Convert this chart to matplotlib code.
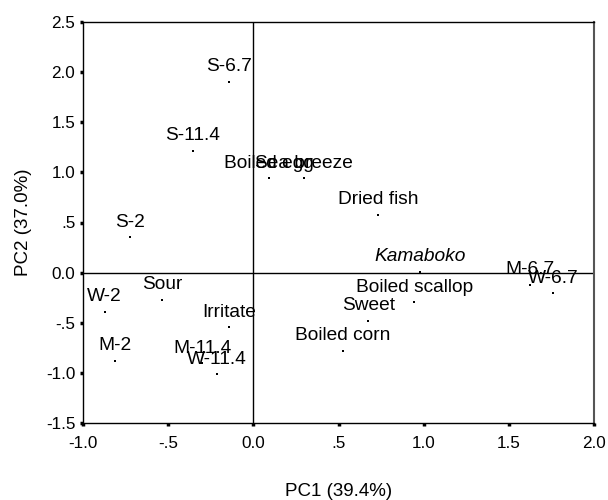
import matplotlib
matplotlib.use("Agg")
import matplotlib.pyplot as plt

labels = ["S-6.7", "S-11.4", "Boiled egg", "Sea breeze", "S-2", "Dried fish",
          "Kamaboko", "M-6.7", "W-6.7", "Boiled scallop", "Sweet", "Boiled corn",
          "W-2", "Sour", "M-2", "Irritate", "M-11.4", "W-11.4"]
pc1 = [-0.145, -0.354, 0.092, 0.295, -0.725, 0.731,
       0.979, 1.625, 1.761, 0.946, 0.676, 0.526,
       -0.872, -0.534, -0.810, -0.143, -0.299, -0.213]
pc2 = [1.906, 1.217, 0.942, 0.942, 0.353, 0.576,
       0.010, -0.122, -0.206, -0.295, -0.479, -0.778,
       -0.389, -0.272, -0.878, -0.545, -0.904, -1.011]
italic_labels = ["Kamaboko"]

xticks = [-1.0, -0.5, 0.0, 0.5, 1.0, 1.5, 2.0]
xticklabels = ["-1.0", "-.5", "0.0", ".5", "1.0", "1.5", "2.0"]
yticks = [-1.5, -1.0, -0.5, 0.0, 0.5, 1.0, 1.5, 2.0, 2.5]
yticklabels = ["-1.5", "-1.0", "-.5", "0.0", ".5", "1.0", "1.5", "2.0", "2.5"]

plt.rcParams['font.family'] = ['Liberation Sans', 'DejaVu Sans']

fig = plt.figure(figsize=(6.08, 5.0), dpi=100)
ax = fig.add_axes([0.1365, 0.154, 0.8405, 0.802])

ax.scatter(pc1, pc2, s=1.2, color='black', marker='s', linewidths=0, zorder=3)
for lab, x, y in zip(labels, pc1, pc2):
    ax.annotate(lab, (x, y), xytext=(0, 7.5), textcoords='offset points',
                ha='center', va='baseline', fontsize=13.8,
                style='italic' if lab in italic_labels else 'normal')

ax.axhline(0, color='black', lw=1.0, zorder=1)
ax.axvline(0, color='black', lw=1.0, zorder=1)

ax.set_xlim(-1.0, 2.0)
ax.set_ylim(-1.5, 2.5)
ax.set_xticks(xticks)
ax.set_xticklabels(xticklabels)
ax.set_yticks(yticks)
ax.set_yticklabels(yticklabels)
ax.tick_params(axis='both', direction='out', length=2.5, width=2.5, labelsize=12.3)
ax.tick_params(axis='x', pad=7)
ax.tick_params(axis='y', pad=3)

for s in ['left', 'bottom', 'top']:
    ax.spines[s].set_color('black')
    ax.spines[s].set_linewidth(1.0)
ax.spines['right'].set_color('#555555')
ax.spines['right'].set_linewidth(1.5)

ax.set_xlabel("PC1 (39.4%)", fontsize=13.5)
ax.set_ylabel("PC2 (37.0%)", fontsize=13.5)
ax.xaxis.set_label_coords(0.5, -0.149)
ax.yaxis.set_label_coords(-0.1, 0.5)

fig.savefig("out.png", dpi=100)
